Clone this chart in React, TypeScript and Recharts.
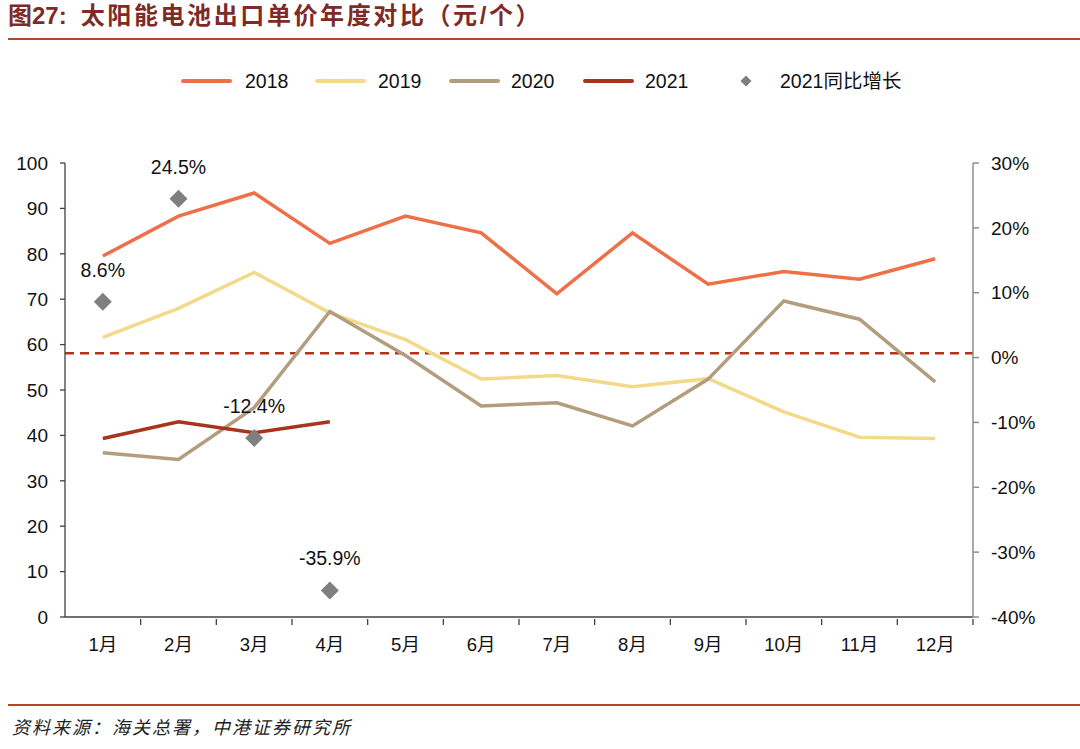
import React from "react";
import {
  ComposedChart,
  Line,
  XAxis,
  YAxis,
  ReferenceLine,
  LabelList,
} from "recharts";

const months = ["1月", "2月", "3月", "4月", "5月", "6月", "7月", "8月", "9月", "10月", "11月", "12月"];
const price2018 = [79.5, 88.3, 93.4, 82.3, 88.3, 84.6, 71.2, 84.6, 73.3, 76.1, 74.4, 78.9];
const price2019 = [61.6, 68.0, 75.9, 67.0, 61.1, 52.4, 53.2, 50.7, 52.5, 45.2, 39.6, 39.3];
const price2020 = [36.2, 34.7, 46.1, 67.3, 57.6, 46.5, 47.2, 42.1, 52.4, 69.6, 65.6, 51.8];
const price2021 = [39.3, 43.0, 40.6, 43.0];
const yoy2021 = [8.6, 24.5, -12.4, -35.9];
const leftTicks = [0, 10, 20, 30, 40, 50, 60, 70, 80, 90, 100];
const rightTicks = [-40, -30, -20, -10, 0, 10, 20, 30];

const FONT = '"Liberation Sans", Arial, sans-serif';
const CJK = '"Liberation Sans", "Noto Sans CJK SC", sans-serif';

const C2018 = "#EE7049";
const C2019 = "#F2DA8A";
const C2020 = "#B29D7E";
const C2021 = "#A9331B";
const CDOT = "#7F7F7F";

const data = months.map((m, i) => ({
  month: m,
  y2018: price2018[i],
  y2019: price2019[i],
  y2020: price2020[i],
  y2021: price2021[i] ?? null,
  yoy: yoy2021[i] ?? null,
}));

const PLOT_LEFT = 65;
const PLOT_RIGHT = 973;
const BAND = (PLOT_RIGHT - PLOT_LEFT) / months.length;

const MonthTick = (props: any) => {
  const { x, y, payload } = props;
  return (
    <g>
      <line x1={x + BAND / 2} x2={x + BAND / 2} y1={y - 6} y2={y} stroke="#404040" strokeWidth={1.3} />
      <text x={x} y={y + 26} textAnchor="middle" fontSize={18.5} fill="#111" fontFamily={CJK}>
        {payload.value}
      </text>
    </g>
  );
};

const Diamond = (props: any) => {
  const { cx, cy, value } = props;
  if (value == null || cx == null || cy == null) return null;
  const r = 9;
  return (
    <polygon
      points={`${cx},${cy - r} ${cx + r},${cy} ${cx},${cy + r} ${cx - r},${cy}`}
      fill={CDOT}
    />
  );
};

const legendItems = [
  { label: "2018", color: C2018, x: 183, tx: 245 },
  { label: "2019", color: C2019, x: 317, tx: 378 },
  { label: "2020", color: C2020, x: 451, tx: 511 },
  { label: "2021", color: C2021, x: 585, tx: 645 },
];

export default function App() {
  return (
    <div style={{ position: "absolute", left: 0, top: 0, width: 1080, height: 749, background: "#fff", overflow: "hidden" }}>
      <div
        style={{
          position: "absolute",
          left: 8,
          top: 0,
          fontSize: 24,
          fontWeight: "bold",
          color: "#7E2B27",
          fontFamily: CJK,
          whiteSpace: "nowrap",
          lineHeight: "32px",
        }}
      >
        <span>图27:</span>
        <span style={{ marginLeft: 14, letterSpacing: 2.6 }}>太阳能电池出口单价年度对比（元/个）</span>
      </div>
      <div style={{ position: "absolute", left: 8, top: 38, width: 1072, height: 2, background: "#B5432A" }} />

      <svg width={1080} height={749} style={{ position: "absolute", left: 0, top: 0 }}>
        {legendItems.map((it) => (
          <g key={it.label}>
            <line x1={it.x} x2={it.x + 47} y1={81} y2={81} stroke={it.color} strokeWidth={4} strokeLinecap="round" />
            <text x={it.tx} y={88} fontSize={19.5} fill="#111" fontFamily={FONT}>
              {it.label}
            </text>
          </g>
        ))}
        <polygon points="746,75.5 751.5,81 746,86.5 740.5,81" fill={CDOT} />
        <text x={780} y={88} fontSize={19.5} fill="#111" fontFamily={CJK}>
          2021同比增长
        </text>
      </svg>

      <div style={{ position: "absolute", left: 0, top: 0 }}>
        <ComposedChart
          width={1080}
          height={749}
          data={data}
          margin={{ top: 163, right: 47, bottom: 92, left: 0 }}
        >
          <XAxis
            dataKey="month"
            scale="band"
            axisLine={{ stroke: "#404040", strokeWidth: 1.3 }}
            tickLine={false}
            tick={<MonthTick />}
            height={40}
            interval={0}
          />
          <YAxis
            yAxisId="left"
            domain={[0, 100]}
            ticks={leftTicks}
            width={65}
            axisLine={{ stroke: "#404040", strokeWidth: 1.3 }}
            tickLine={{ stroke: "#404040", strokeWidth: 1.3 }}
            tickSize={5}
            tickMargin={12}
            tick={{ fontSize: 19, fill: "#111", fontFamily: FONT }}
            interval={0}
          />
          <YAxis
            yAxisId="right"
            orientation="right"
            domain={[-40, 30]}
            ticks={rightTicks}
            width={60}
            axisLine={{ stroke: "#8C8C8C", strokeWidth: 1.5 }}
            tickLine={{ stroke: "#8C8C8C", strokeWidth: 1.5 }}
            tickSize={6}
            tickMargin={12}
            tickFormatter={(v: number) => `${v}%`}
            tick={{ fontSize: 19, fill: "#111", fontFamily: FONT }}
            interval={0}
          />
          <ReferenceLine
            yAxisId="left"
            y={58.1}
            stroke="#B0341A"
            strokeWidth={2.4}
            strokeDasharray="9 6"
          />
          <Line yAxisId="left" dataKey="y2018" stroke={C2018} strokeWidth={3.5} dot={false} isAnimationActive={false} />
          <Line yAxisId="left" dataKey="y2019" stroke={C2019} strokeWidth={3.5} dot={false} isAnimationActive={false} />
          <Line yAxisId="left" dataKey="y2020" stroke={C2020} strokeWidth={3.5} dot={false} isAnimationActive={false} />
          <Line yAxisId="left" dataKey="y2021" stroke={C2021} strokeWidth={3.5} dot={false} isAnimationActive={false} />
          <Line
            yAxisId="right"
            dataKey="yoy"
            stroke="none"
            dot={<Diamond />}
            activeDot={false}
            isAnimationActive={false}
          >
            <LabelList
              dataKey="yoy"
              position="top"
              offset={25}
              formatter={(v: any) => (v == null ? "" : `${v}%`)}
              style={{ fontSize: 19.5, fill: "#111", fontFamily: FONT }}
            />
          </Line>
        </ComposedChart>
      </div>

      <div style={{ position: "absolute", left: 8, top: 704, width: 1072, height: 2, background: "#B5432A" }} />
      <div
        style={{
          position: "absolute",
          left: 12,
          top: 713,
          fontSize: 18,
          fontStyle: "italic",
          letterSpacing: 2,
          color: "#222",
          fontFamily: '"Noto Sans CJK SC", sans-serif',
          whiteSpace: "nowrap",
        }}
      >
        资料来源：海关总署，中港证券研究所
      </div>
    </div>
  );
}
